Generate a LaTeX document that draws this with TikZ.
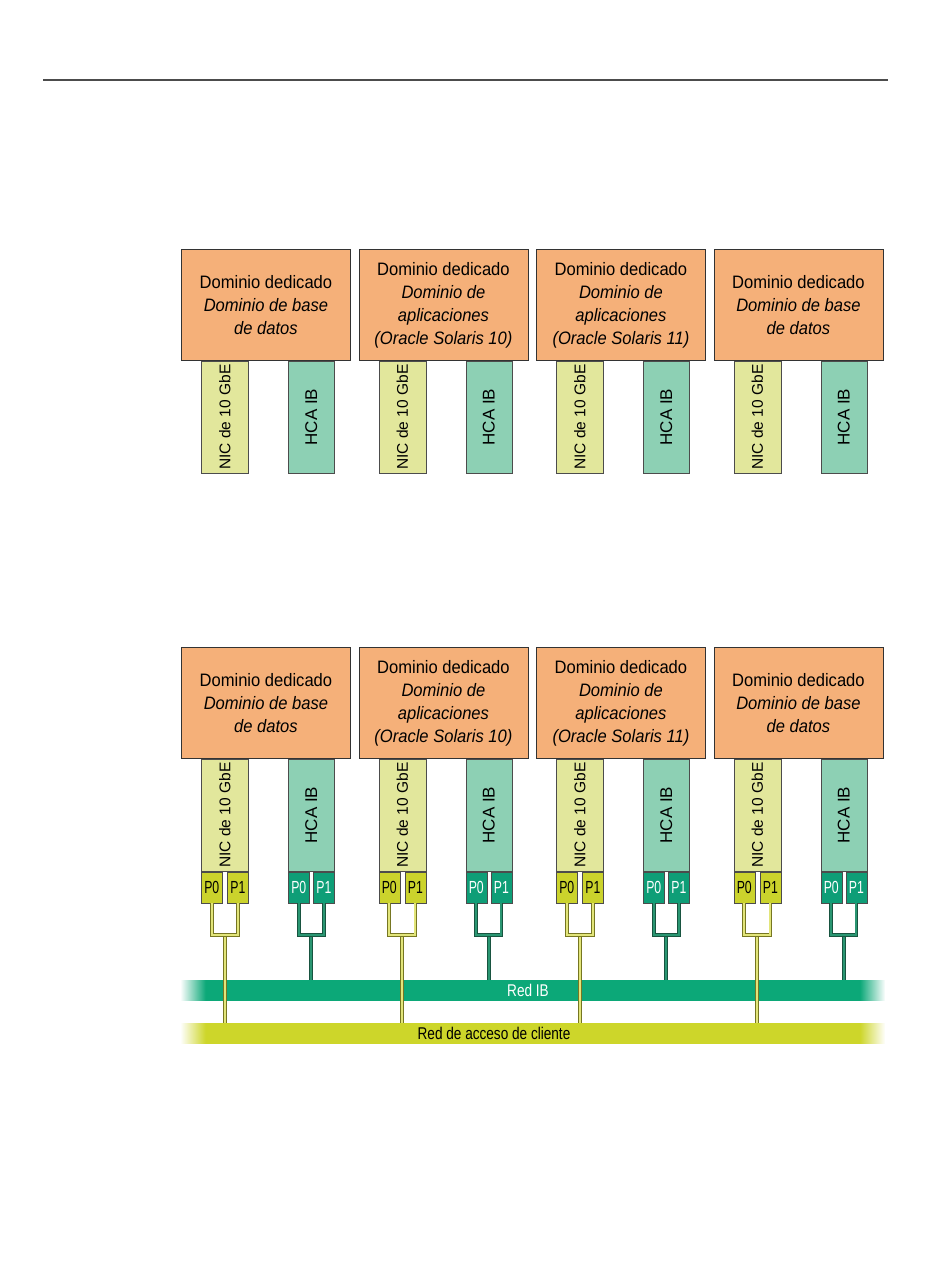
\documentclass[tikz,border=0pt]{standalone}
\usepackage{fontspec}
\setmainfont{Liberation Sans}
\newfontfamily\domfont[FakeStretch=0.92]{Liberation Sans}
\newfontfamily\portfont[FakeStretch=0.7]{Liberation Sans}
\newfontfamily\netfont[FakeStretch=0.8]{Liberation Sans}
\usepackage{xcolor}
\usepackage{tikz}
\usetikzlibrary{
    positioning,
    calc
}
\definecolor{domorange}{RGB}{245,176,121}
\definecolor{nicpale}{RGB}{226,231,156}
\definecolor{hcapale}{RGB}{141,208,180}
\definecolor{nicport}{RGB}{203,211,44}
\definecolor{hcaport}{RGB}{14,158,119}
\definecolor{ibgreen}{RGB}{12,168,120}
\definecolor{clientyellow}{RGB}{205,214,42}
\definecolor{nicwire}{RGB}{118,118,34}
\definecolor{nicwirein}{RGB}{226,229,122}
\definecolor{hcawire}{RGB}{24,84,64}
\definecolor{hcawirein}{RGB}{42,150,114}
\pgfdeclarehorizontalshading{ibfade}{100bp}{
    color(0bp)=(white); color(25bp)=(white);
    color(26.8bp)=(ibgreen); color(73.2bp)=(ibgreen);
    color(75bp)=(white); color(100bp)=(white)
}
\pgfdeclarehorizontalshading{clientfade}{100bp}{
    color(0bp)=(white); color(25bp)=(white);
    color(26.8bp)=(clientyellow); color(73.2bp)=(clientyellow);
    color(75bp)=(white); color(100bp)=(white)
}
\tikzset{
    domainbox/.style={
        draw=black!80,
        line width=0.8pt,
        minimum width=169pt,
        minimum height=111pt,
        inner sep=0pt,
        align=center,
        fill=domorange,
        anchor=north west,
        font=\domfont\fontsize{18}{23}\selectfont
    }
}
\tikzset{
    niccard/.style={
        draw=black!70,
        line width=0.7pt,
        minimum width=47pt,
        minimum height=112pt,
        inner sep=0pt,
        fill=nicpale,
        font=\fontsize{15.5}{18}\selectfont
    }
}
\tikzset{
    hcacard/.style={
        draw=black!70,
        line width=0.7pt,
        minimum width=46pt,
        minimum height=112pt,
        inner sep=0pt,
        fill=hcapale,
        font=\fontsize{17}{20}\selectfont
    }
}
\tikzset{
    nicportbox/.style={
        draw=black!70,
        line width=0.6pt,
        minimum width=21pt,
        minimum height=31pt,
        inner sep=0pt,
        fill=nicport,
        font=\portfont\fontsize{17.5}{20}\selectfont
    }
}
\tikzset{
    hcaportbox/.style={
        nicportbox,
        fill=hcaport,
        text=white
    }
}
\tikzset{
    niccable/.style={
        draw=nicwire,
        double=nicwirein,
        double distance=2pt,
        line width=0.9pt
    }
}
\tikzset{
    hcacable/.style={
        draw=hcawire,
        double=hcawirein,
        double distance=2pt,
        line width=0.9pt
    }
}
\tikzset{
    netbar/.style={
        minimum width=705pt,
        minimum height=20pt,
        inner sep=0pt,
        anchor=north west
    }
}
\tikzset{
    netlabel/.style={
        inner sep=0pt,
        font=\netfont\fontsize{17}{20}\selectfont
    }
}

\begin{document}
\begin{tikzpicture}[
    x=1pt,
    y=-1pt
]

\useasboundingbox (0,0) rectangle (950,1284);

% ------------------------------------------------------------
% Page rule
% ------------------------------------------------------------

\draw[black!70, line width=1.3pt] (43,80) -- (888,80);

% ------------------------------------------------------------
% Upper diagram: dedicated domains
% ------------------------------------------------------------

\node[domainbox] (topdb1) at (181,249)
    {Dominio dedicado\\\textit{Dominio de base}\\\textit{de datos}};

\node[domainbox] (topapp10) at (358.5,249)
    {Dominio dedicado\\\textit{Dominio de}\\\textit{aplicaciones}\\\textit{(Oracle Solaris 10)}};

\node[domainbox] (topapp11) at (536,249)
    {Dominio dedicado\\\textit{Dominio de}\\\textit{aplicaciones}\\\textit{(Oracle Solaris 11)}};

\node[domainbox] (topdb2) at (713.5,249)
    {Dominio dedicado\\\textit{Dominio de base}\\\textit{de datos}};

% ------------------------------------------------------------
% Lower diagram: dedicated domains
% ------------------------------------------------------------

\node[domainbox] (botdb1) at (181,647)
    {Dominio dedicado\\\textit{Dominio de base}\\\textit{de datos}};

\node[domainbox] (botapp10) at (358.5,647)
    {Dominio dedicado\\\textit{Dominio de}\\\textit{aplicaciones}\\\textit{(Oracle Solaris 10)}};

\node[domainbox] (botapp11) at (536,647)
    {Dominio dedicado\\\textit{Dominio de}\\\textit{aplicaciones}\\\textit{(Oracle Solaris 11)}};

\node[domainbox] (botdb2) at (713.5,647)
    {Dominio dedicado\\\textit{Dominio de base}\\\textit{de datos}};

% ------------------------------------------------------------
% Cards under every domain
% ------------------------------------------------------------

\foreach \dom in {topdb1, topapp10, topapp11, topdb2, botdb1, botapp10, botapp11, botdb2} {
    \node[niccard, below right=0pt and 20pt of \dom.south west] (\dom nic)
        {\rotatebox{90}{NIC de 10 GbE}};
    \node[hcacard, below right=0pt and 107pt of \dom.south west] (\dom hca)
        {\rotatebox{90}{HCA IB}};
}

% ------------------------------------------------------------
% Networks
% ------------------------------------------------------------

\node[netbar, shading=ibfade] (ibnet) at (180,980) {};
\node[netbar, shading=clientfade] (clientnet) at (180,1023) {};

\node[netlabel, text=white] (iblabel) at (528,990) {Red IB};
\node[netlabel] (clientlabel) at (494,1033) {Red de acceso de cliente};

% ------------------------------------------------------------
% Ports and cables
% ------------------------------------------------------------

\foreach \dom in {botdb1, botapp10, botapp11, botdb2} {
    \foreach \card/\port/\cable/\net in {nic/nicportbox/niccable/clientnet, hca/hcaportbox/hcacable/ibnet} {
        \node[\port, below right=0pt and 0pt of \dom\card.south west] (\dom\card p0) {P0};
        \node[\port, below left=0pt and 0pt of \dom\card.south east] (\dom\card p1) {P1};
        \coordinate (\dom\card join)
            at ($(\dom\card p0.south)!0.5!(\dom\card p1.south)+(0,32)$);
        \draw[\cable] (\dom\card join) -- (\dom\card join |- \net.north);
        \draw[\cable] (\dom\card p0.south) -- ++(0,32) -| (\dom\card p1.south);
    }
}

\end{tikzpicture}
\end{document}
